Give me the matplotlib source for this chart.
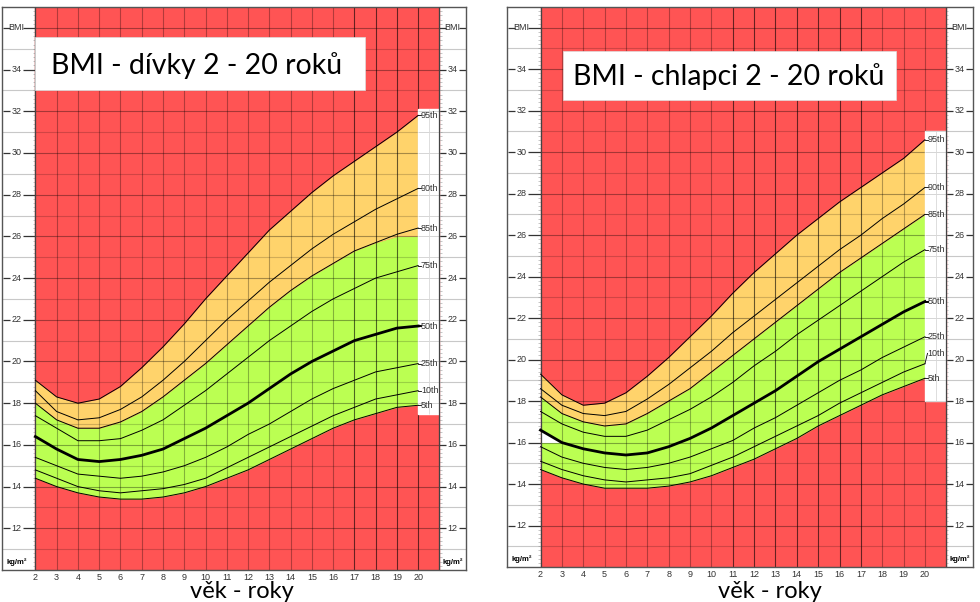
import numpy as np
import matplotlib.pyplot as plt
from matplotlib.patches import Rectangle

ages = list(range(2, 21))
pct_names = ["5th", "10th", "25th", "50th", "75th", "85th", "90th", "95th"]

# BMI percentiles, girls
girls_p5 = [14.4, 14.0, 13.7, 13.5, 13.4, 13.4, 13.5, 13.7, 14.0, 14.4, 14.8, 15.3, 15.8, 16.3, 16.8, 17.2, 17.5, 17.8, 17.9]
girls_p10 = [14.8, 14.4, 14.0, 13.8, 13.7, 13.8, 13.9, 14.1, 14.4, 14.9, 15.4, 15.9, 16.4, 16.9, 17.4, 17.8, 18.2, 18.4, 18.6]
girls_p25 = [15.4, 15.0, 14.6, 14.5, 14.4, 14.5, 14.7, 15.0, 15.4, 15.9, 16.5, 17.0, 17.6, 18.2, 18.7, 19.1, 19.5, 19.7, 19.9]
girls_p50 = [16.4, 15.8, 15.3, 15.2, 15.3, 15.5, 15.8, 16.3, 16.8, 17.4, 18.0, 18.7, 19.4, 20.0, 20.5, 21.0, 21.3, 21.6, 21.7]
girls_p75 = [17.4, 16.8, 16.2, 16.2, 16.3, 16.7, 17.2, 17.9, 18.6, 19.4, 20.2, 21.0, 21.7, 22.4, 23.0, 23.5, 24.0, 24.3, 24.6]
girls_p85 = [18.0, 17.2, 16.8, 16.8, 17.1, 17.6, 18.3, 19.1, 19.9, 20.8, 21.7, 22.6, 23.4, 24.1, 24.7, 25.3, 25.7, 26.1, 26.4]
girls_p90 = [18.6, 17.6, 17.2, 17.3, 17.7, 18.3, 19.1, 20.0, 21.0, 22.0, 22.9, 23.8, 24.6, 25.4, 26.1, 26.7, 27.3, 27.8, 28.3]
girls_p95 = [19.1, 18.3, 18.0, 18.2, 18.8, 19.7, 20.7, 21.8, 23.0, 24.1, 25.2, 26.3, 27.2, 28.1, 28.9, 29.6, 30.3, 31.0, 31.8]

# BMI percentiles, boys
boys_p5 = [14.7, 14.3, 14.0, 13.8, 13.8, 13.8, 13.9, 14.1, 14.4, 14.8, 15.2, 15.7, 16.2, 16.8, 17.3, 17.8, 18.3, 18.7, 19.1]
boys_p10 = [15.1, 14.7, 14.4, 14.2, 14.1, 14.2, 14.3, 14.5, 14.9, 15.3, 15.8, 16.3, 16.8, 17.3, 17.9, 18.4, 18.9, 19.4, 19.8]
boys_p25 = [15.8, 15.3, 15.0, 14.8, 14.7, 14.8, 15.0, 15.3, 15.7, 16.1, 16.7, 17.2, 17.8, 18.4, 19.0, 19.5, 20.1, 20.6, 21.1]
boys_p50 = [16.6, 16.0, 15.7, 15.5, 15.4, 15.5, 15.8, 16.2, 16.7, 17.3, 17.9, 18.5, 19.2, 19.9, 20.5, 21.1, 21.7, 22.3, 22.8]
boys_p75 = [17.5, 16.9, 16.5, 16.3, 16.3, 16.6, 17.1, 17.6, 18.2, 18.9, 19.7, 20.4, 21.2, 21.9, 22.6, 23.3, 24.0, 24.7, 25.3]
boys_p85 = [18.2, 17.4, 17.0, 16.8, 16.9, 17.4, 18.0, 18.6, 19.4, 20.2, 21.0, 21.8, 22.6, 23.4, 24.2, 24.9, 25.6, 26.3, 27.0]
boys_p90 = [18.6, 17.8, 17.4, 17.3, 17.5, 18.1, 18.8, 19.6, 20.4, 21.3, 22.1, 22.9, 23.7, 24.5, 25.3, 26.0, 26.8, 27.5, 28.3]
boys_p95 = [19.3, 18.3, 17.8, 17.9, 18.4, 19.2, 20.1, 21.1, 22.1, 23.2, 24.2, 25.1, 26.0, 26.8, 27.6, 28.3, 29.0, 29.7, 30.6]

girls = [girls_p5, girls_p10, girls_p25, girls_p50, girls_p75, girls_p85, girls_p90, girls_p95]
boys = [boys_p5, boys_p10, boys_p25, boys_p50, boys_p75, boys_p85, boys_p90, boys_p95]

RED = "#ff5454"
ORANGE = "#ffd36b"
GREEN = "#bbff52"

TITLE_FONT = "Lato"
SMALL_FONT = "Liberation Sans"


def draw_chart(ax, curves, title, title_box, title_xy, box_range, green_cap, dark_cols, label_shift):
    x0, x1 = 0.43, 22.25
    ax.set_xlim(x0, x1)
    ax.set_ylim(10, 37)

    # background zones
    ax.add_patch(Rectangle((2, 10), 19, 27, color=RED, zorder=0))
    green_top = np.minimum(curves[5], green_cap)
    ax.fill_between(ages, curves[0], green_top, color=GREEN, lw=0, zorder=1)
    ax.fill_between(ages, green_top, curves[7], color=ORANGE, lw=0, zorder=1)

    # grid
    for v in range(2, 22):
        a = 0.6 if v in dark_cols else 0.3
        ax.vlines(v, 10, 37, color="black", lw=0.8, alpha=a, zorder=2)
    for v in range(10, 38):
        a = 0.35 if v % 2 == 0 else 0.18
        ax.hlines(v, 2, 21, color="black", lw=0.8, alpha=a, zorder=2)

    # percentile label box
    lo, hi = box_range
    ax.add_patch(Rectangle((20, lo), 1, hi - lo, color="white", zorder=3))
    for v in range(int(np.ceil(lo)), int(hi) + 1):
        ax.hlines(v, 20, 21, color="#cfcfcf", lw=0.6, zorder=3)
    ax.vlines(20.5, lo, hi, color="#d8d8d8", lw=0.6, zorder=3)

    # percentile curves
    for name, c in zip(pct_names, curves):
        lw = 2.0 if name == "50th" else 0.7
        ax.plot(ages, c, color="black", lw=lw, zorder=4, solid_joinstyle="round")
        ly = c[-1] + label_shift.get(name, 0)
        ax.plot([20, 20.12], [c[-1], ly], color="black", lw=0.6 if name != "50th" else 1.4, zorder=4)
        ax.text(20.13, ly, name, fontsize=6.5, family=SMALL_FONT, color="#333333",
                ha="left", va="center", zorder=5)

    # side columns: ticks, labels, light lines
    for v in range(11, 37, 2):
        ax.hlines(v, x0, 2, color="#c8c8c8", lw=0.8, zorder=2)
        ax.hlines(v, 21, x1, color="#c8c8c8", lw=0.8, zorder=2)
    minor = np.arange(10, 37.01, 0.2)
    ax.hlines(minor, 1.9, 2.0, color="#999999", lw=0.4, zorder=2)
    ax.hlines(minor, 21.0, 21.1, color="#999999", lw=0.4, zorder=2)
    ytick_vals = list(range(12, 35, 2)) + [36]
    for v in ytick_vals:
        lab = "BMI" if v == 36 else str(v)
        ax.hlines(v, 0.5, 0.8, color="#333333", lw=0.9, zorder=2)
        ax.hlines(v, 1.42, 2.0, color="#333333", lw=0.9, zorder=2)
        ax.hlines(v, 21.0, 21.33, color="#333333", lw=0.9, zorder=2)
        ax.hlines(v, 21.9, x1, color="#333333", lw=0.9, zorder=2)
        ax.text(1.1, v, lab, fontsize=6.5, family=SMALL_FONT, color="#333333", ha="center", va="center")
        ax.text(21.62, v, lab, fontsize=6.5, family=SMALL_FONT, color="#333333", ha="center", va="center")
    ax.text(1.1, 10.4, "kg/m²", fontsize=5.5, family=SMALL_FONT, weight="bold", ha="center", va="center")
    ax.text(21.62, 10.4, "kg/m²", fontsize=5.5, family=SMALL_FONT, weight="bold", ha="center", va="center")
    ax.vlines([2, 21], 10, 37, color="#444444", lw=0.9, zorder=3)

    # title box
    bx, by, bw, bh = title_box
    ax.add_patch(Rectangle((bx, by), bw, bh, facecolor="white", edgecolor="#dddddd", lw=0.5, zorder=6))
    ax.text(title_xy[0], title_xy[1], title, fontsize=20.5, family=TITLE_FONT,
            ha="center", va="center", zorder=7)

    ax.set_xticks(ages)
    ax.set_xticklabels([str(a) for a in ages], fontsize=6.5, family=SMALL_FONT, color="#333333")
    ax.tick_params(axis="x", length=0, pad=2)
    ax.set_yticks([])
    for s in ax.spines.values():
        s.set_color("#555555")
        s.set_linewidth(1.0)


fig = plt.figure(figsize=(9.8, 6.02), dpi=100)
ax1 = fig.add_axes([2 / 980, 1 - 570 / 602, 464 / 980, 563 / 602])
ax2 = fig.add_axes([507 / 980, 1 - 567 / 602, 466 / 980, 560 / 602])

draw_chart(ax1, girls, "BMI - dívky 2 - 20 roků", (2.0, 33.0, 15.5, 2.56), (9.6, 34.2),
           (17.5, 32.1), 26.0, [17, 18, 19, 20], {})
draw_chart(ax2, boys, "BMI - chlapci 2 - 20 roků", (3.03, 32.5, 15.6, 2.4), (10.8, 33.65),
           (18.0, 31.0), 99.0, [11, 12, 13, 14, 15, 16, 17], {"10th": 0.5})

# small white wedge near age 2 on boys chart
b50 = np.array(boys_p50)
ax2.fill_between(ages[:2], 16, b50[:2], color="white", lw=0, zorder=1.5)

fig.text(242 / 980, 3.5 / 602, "věk - roky", fontsize=17, family=TITLE_FONT, ha="center", va="baseline")
fig.text(770 / 980, 3.5 / 602, "věk - roky", fontsize=17, family=TITLE_FONT, ha="center", va="baseline")

fig.savefig("out.png", dpi=100)
